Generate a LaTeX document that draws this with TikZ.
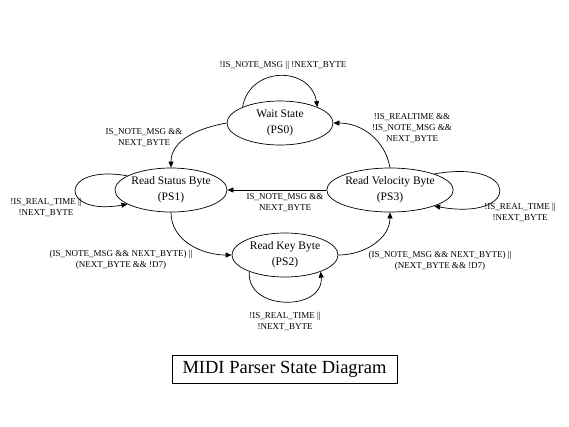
\documentclass[tikz,border=0pt]{standalone}
\usepackage{fontspec}
\setmainfont{Liberation Serif}
\usetikzlibrary{shapes.geometric,arrows.meta}
\begin{document}
\begin{tikzpicture}[x=1pt,y=-1pt,
  st/.style={ellipse,draw,line width=0.7pt,minimum width=106pt,minimum height=44pt,inner sep=0pt,align=center,font=\fontsize{11.5}{16}\selectfont},
  lbl/.style={align=center,font=\fontsize{9}{11}\selectfont,inner sep=0pt},
  tr/.style={-{Triangle[length=6pt,width=5pt]},line width=0.7pt}]
\useasboundingbox[fill=white] (0,0) rectangle (569,426);

\node[st] (ps0) at (280,123) {Wait State\\(PS0)};
\node[st] (ps1) at (171,190) {Read Status Byte\\(PS1)};
\node[st,minimum width=108pt] (ps3) at (390,190) {Read Velocity Byte\\(PS3)};
\node[st] (ps2) at (285,255) {Read Key Byte\\(PS2)};

% transitions
\draw[tr] (ps0.157) .. controls +(80:42pt) and +(100:42pt) .. (ps0.23);
\draw[tr] (ps0.west) to[out=190,in=90] (ps1.north);
\draw[tr] (ps3.north) to[out=100,in=0] (ps0.east);
\draw[tr] (ps1.162) .. controls +(170:70pt) and +(190:70pt) .. (ps1.198);
\draw[tr] (ps3.west) -- (ps1.east);
\draw[tr] (ps3.20) .. controls +(10:88pt) and +(-10:88pt) .. (ps3.-20);
\draw[tr] (ps1.south) to[out=270,in=180] (ps2.west);
\draw[tr] (ps2.east) to[out=0,in=270] (ps3.south);
\draw[tr] (ps2.205) .. controls +(265:40pt) and +(275:40pt) .. (ps2.335);

% labels
\node[lbl] (l0) at (283,65) {!IS\_NOTE\_MSG || !NEXT\_BYTE};
\node[lbl] (l1) at (144,137.5) {IS\_NOTE\_MSG \&\&\\NEXT\_BYTE};
\node[lbl] (l2) at (412,128.5) {!IS\_REALTIME \&\&\\!IS\_NOTE\_MSG \&\&\\NEXT\_BYTE};
\node[lbl] (l3) at (285,203) {IS\_NOTE\_MSG \&\&\\NEXT\_BYTE};
\node[lbl] (l4) at (46,207) {!IS\_REAL\_TIME ||\\!NEXT\_BYTE};
\node[lbl] (l5) at (520,212.5) {!IS\_REAL\_TIME ||\\!NEXT\_BYTE};
\node[lbl] (l6) at (121,260) {(IS\_NOTE\_MSG \&\& NEXT\_BYTE) ||\\(NEXT\_BYTE \&\& !D7)};
\node[lbl] (l7) at (440,260.5) {(IS\_NOTE\_MSG \&\& NEXT\_BYTE) ||\\(NEXT\_BYTE \&\& !D7)};
\node[lbl] (l8) at (285,321.5) {!IS\_REAL\_TIME ||\\!NEXT\_BYTE};

% title
\node[draw,line width=0.7pt,minimum width=225pt,minimum height=28pt,inner sep=0pt,font=\fontsize{18.5}{22}\selectfont] (title) at (284.5,369) {MIDI Parser State Diagram};
\end{tikzpicture}
\end{document}
